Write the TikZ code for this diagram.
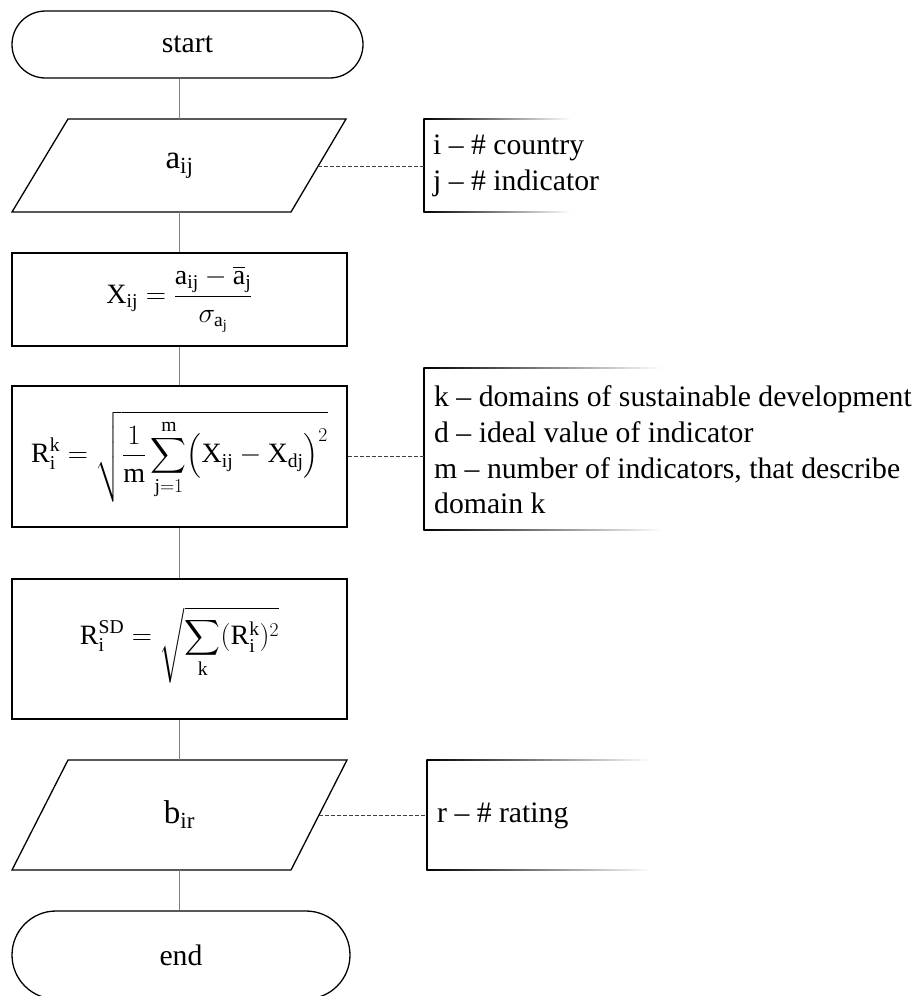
\RequirePackage{fix-cm}
\documentclass[tikz,border=0pt]{standalone}
\usepackage{exscale}
\usepackage{fontspec}
\setmainfont{Liberation Serif}
\usetikzlibrary{shapes.misc}
\newcommand\txtfont{\fontsize{29.7}{35.6}\selectfont}
\newcommand\mthfont{\fontsize{28}{33}\selectfont}
\newcommand\iofont{\fontsize{33}{38}\selectfont}
\newcommand\rmv[1]{\mathrm{#1}}
\begin{document}
\begin{tikzpicture}[x=1pt,y=-1pt,
  shapeline/.style={draw=black, line width=1.3pt},
  term/.style={rounded rectangle, shapeline, inner sep=0pt, font=\txtfont},
  procbox/.style={rectangle, shapeline, inner sep=0pt, minimum width=335pt, font=\mthfont},
  iobox/.style={rectangle, draw=none, inner sep=0pt, font=\iofont},
  flow/.style={draw=black!50, line width=1.3pt},
  noteline/.style={draw=black!75, line width=1pt, dash pattern=on 4pt off 2pt},
  notetext/.style={anchor=west, align=left, inner sep=0pt, font=\txtfont},
  bracket/.style={draw=black, line width=1.3pt}
]
\clip (0,0) rectangle (917,996);

% terminals
\node[term, minimum width=351pt, minimum height=67pt] (start) at (187.5,44.5) {start};
\node[term, minimum width=338pt, minimum height=88pt] (end) at (181,955) {end};

% input a_ij
\node[iobox, minimum width=279pt, minimum height=93pt] (a) at (179.5,165.5) {$\rmv{a}_{\rmv{ij}}$};
\draw[shapeline] (68,119) -- (346,119) -- (291,212) -- (12,212) -- cycle;

% process boxes
\node[procbox, minimum height=93pt] (x) at (179.5,299.5)
  {$\displaystyle \rmv{X}_{\rmv{ij}} = \frac{\rmv{a}_{\rmv{ij}}-\overline{\rmv{a}}_{\rmv{j}}}{\sigma_{\rmv{a}_{\rmv{j}}}}$};
\node[procbox, minimum height=141pt] (r) at (179.5,456.5)
  {$\displaystyle \rmv{R}_{\rmv{i}}^{\rmv{k}} = \sqrt{\frac{1}{\rmv{m}}\sum_{\rmv{j}=1}^{\rmv{m}}\bigl(\rmv{X}_{\rmv{ij}}-\rmv{X}_{\rmv{dj}}\bigr)^{2}}$};
\node[procbox, minimum height=140pt] (sd) at (179.5,649) {};
\node[font=\mthfont, inner sep=0pt] (sdf) at (179.5,645)
  {$\displaystyle \rmv{R}_{\rmv{i}}^{\rmv{SD}} = \sqrt{\sum_{\rmv{k}}(\rmv{R}_{\rmv{i}}^{\rmv{k}})^{2}}$};

% output b_ir
\node[iobox, minimum width=280pt, minimum height=110pt] (b) at (179.5,815) {$\rmv{b}_{\rmv{ir}}$};
\draw[shapeline] (68,760) -- (347,760) -- (291,870) -- (12,870) -- cycle;

% flow lines
\draw[flow] (start.south -| a.north) -- (a.north);
\draw[flow] (a.south) -- (x.north);
\draw[flow] (x.south) -- (r.north);
\draw[flow] (r.south) -- (sd.north);
\draw[flow] (sd.south) -- (b.north);
\draw[flow] (b.south) -- (b.south |- end.north);

% note 1
\draw[bracket] (424,119) -- (424,212);
\shade[left color=black, right color=white] (423.35,118.35) rectangle (571,119.65);
\shade[left color=black, right color=white] (423.35,211.35) rectangle (571,212.65);
\node[notetext] (n1) at (433,166) {i – \# country\\j – \# indicator};
\coordinate (ae) at (318.2,166);
\coordinate (n1b) at (424,166);
\draw[noteline] (ae) -- (n1b);

% note 2
\draw[bracket] (424,368) -- (424,530);
\shade[left color=black, right color=white] (423.35,367.35) rectangle (662,368.65);
\shade[left color=black, right color=white] (423.35,529.35) rectangle (662,530.65);
\node[notetext] (n2) at (434,450) {k – domains of sustainable development\\d – ideal value of indicator\\m – number of indicators, that describe\\domain k};
\coordinate (n2b) at (424,456.5);
\draw[noteline] (r.east) -- (n2b);

% note 3
\draw[bracket] (427,760) -- (427,870);
\shade[left color=black, right color=white] (426.35,759.35) rectangle (651,760.65);
\shade[left color=black, right color=white] (426.35,869.35) rectangle (651,870.65);
\node[notetext] (n3) at (437,816) {r – \# rating};
\coordinate (be) at (319,815);
\coordinate (n3b) at (427,815);
\draw[noteline] (be) -- (n3b);
\end{tikzpicture}
\end{document}
